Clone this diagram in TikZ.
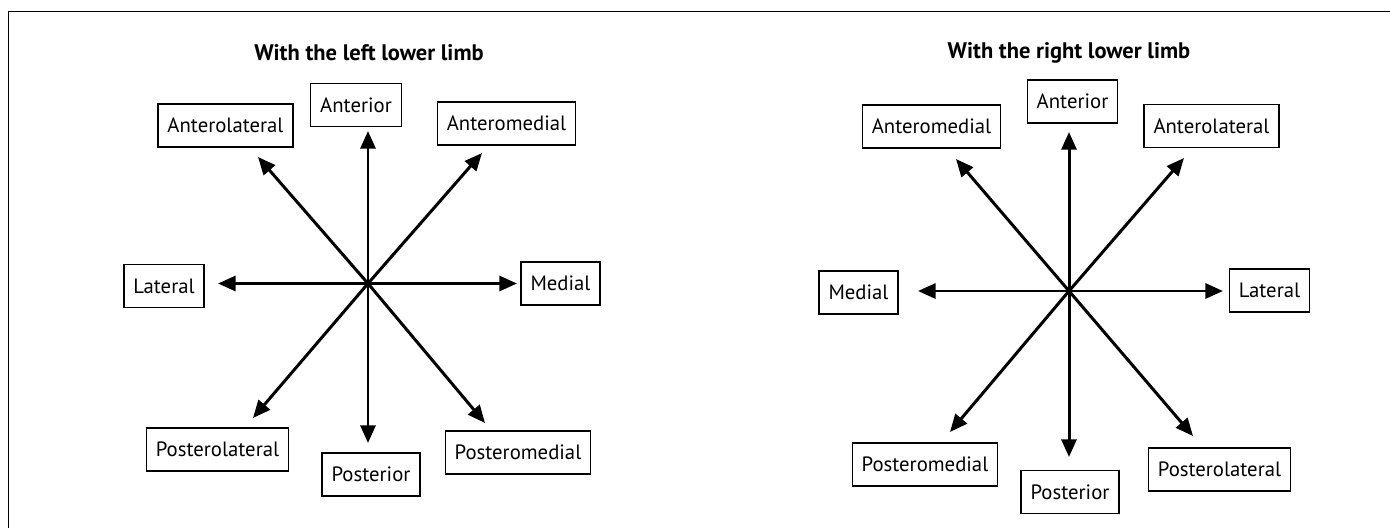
\documentclass[tikz,border=0pt]{standalone}
\usepackage{fontspec}
\setmainfont{PT Sans}
\usetikzlibrary{arrows.meta}
\definecolor{ink}{RGB}{0,0,0}

\begin{document}
\begin{tikzpicture}[x=0.02cm,y=-0.02cm,
    lbl/.style={draw=ink,line width=0.75pt,font=\fontsize{11.8}{14}\selectfont,
      minimum height=0.86cm,inner xsep=0.19cm,inner ysep=0pt},
    ttl/.style={font=\fontsize{12.8}{15}\selectfont\bfseries,text=ink},
    arr/.style={ink,line width=1.7pt,-{Triangle[length=10pt,width=8.5pt]}}]
    \useasboundingbox (0,0) rectangle (1390,528);
    \draw[ink,line width=0.85pt] (1390,11.5) -| (8.5,528);

    % left lower limb
    \node[ttl] (ltitle) at (369,53) {With the left lower limb};
    \coordinate (lc) at (368,283.5);
    \foreach \n/\x/\y/\t in {ant/356/105/Anterior,antlat/225.5/125.5/Anterolateral,
        antmed/506.5/123.5/Anteromedial,lat/164/286/Lateral,med/560.5/283.5/Medial,
        postlat/217.5/449.5/Posterolateral,post/371/474.5/Posterior,
        postmed/518/452.5/Posteromedial}
      \node[lbl] (l\n) at (\x,\y) {\t};
    \foreach \n/\x/\y in {ant/368/131,antlat/258/157,antmed/482/153,lat/218/283.5,
        med/517/283.5,postlat/253/418,post/368/443,postmed/485/423}{
      \coordinate (lt\n) at (\x,\y);
      \draw[arr] (lc) -- (lt\n);
    }

    % right lower limb
    \node[ttl] (rtitle) at (1069,53) {With the right lower limb};
    \coordinate (rc) at (1069,291);
    \foreach \n/\x/\y/\t in {ant/1072.5/101.5/Anterior,antmed/931.5/126.5/Anteromedial,
        antlat/1211.5/126/Anterolateral,med/858.5/292.5/Medial,lat/1269.5/290.5/Lateral,
        postmed/925/464.5/Posteromedial,post/1070/492/Posterior,
        postlat/1219.5/469.5/Posterolateral}
      \node[lbl] (r\n) at (\x,\y) {\t};
    \foreach \n/\x/\y in {ant/1069/132,antmed/956/159,antlat/1184/158,med/918/291,
        lat/1223/291,postmed/950/432,post/1069/457,postlat/1193/436}{
      \coordinate (rt\n) at (\x,\y);
      \draw[arr] (rc) -- (rt\n);
    }
\end{tikzpicture}
\end{document}
